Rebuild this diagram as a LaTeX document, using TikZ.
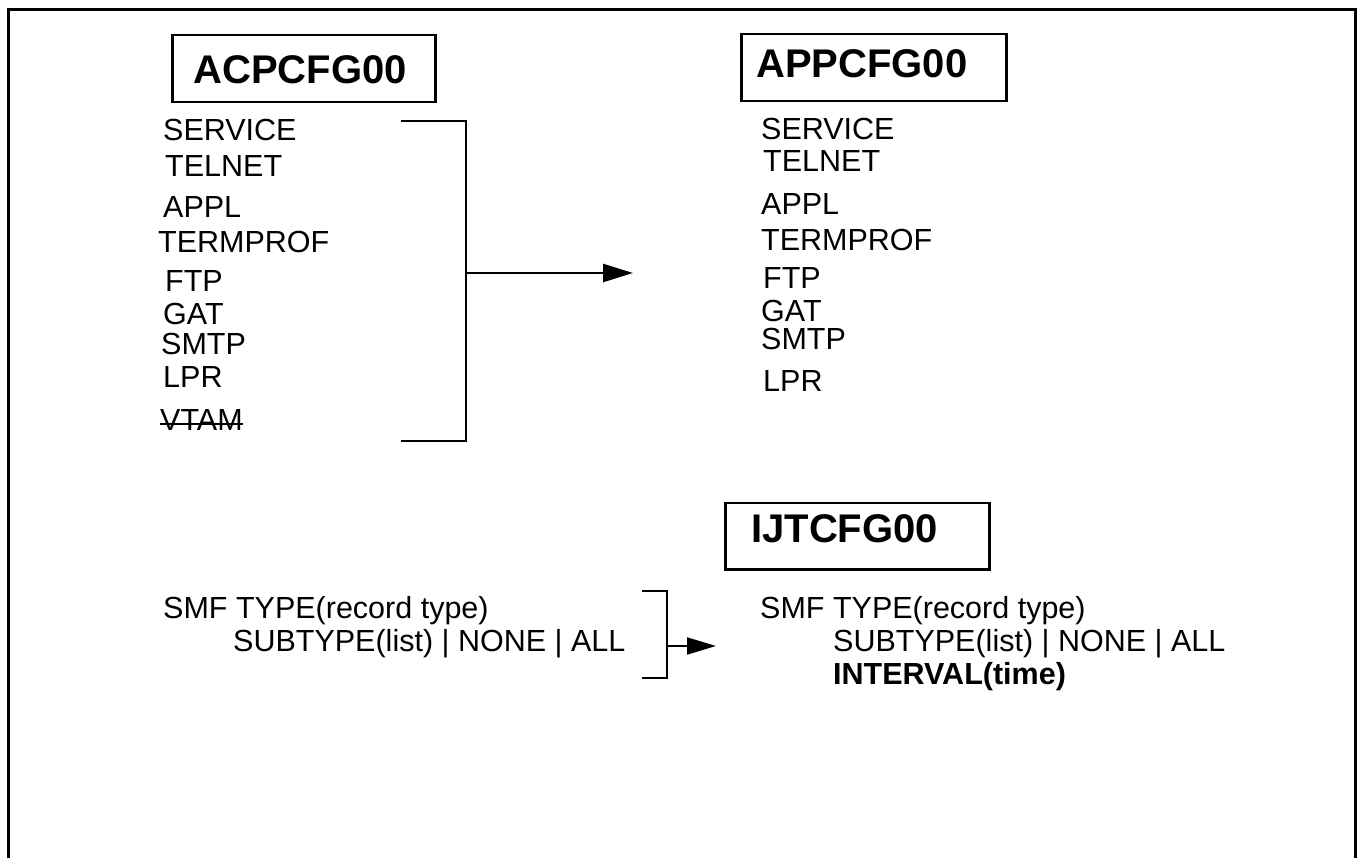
\documentclass[tikz,border=0pt]{standalone}
\usepackage{fontspec}
\setmainfont{Liberation Sans}
\usetikzlibrary{arrows.meta}
\begin{document}
\begin{tikzpicture}[x=1pt,y=-1pt,
  frame/.style={line width=3pt},
  hdr/.style={draw, line width=2.5pt, anchor=north west, inner ysep=0pt,
    font=\fontsize{40}{48}\selectfont\bfseries, text height=29pt,
    minimum height=67pt, align=left},
  item/.style={anchor=base west, inner sep=0pt, font=\fontsize{30.5}{36}\selectfont},
  brk/.style={line width=2.5pt},
  arr/.style={line width=2.5pt, -{Triangle[length=30pt,width=18pt]}}]
\useasboundingbox (0,0) rectangle (1361,858);
% outer frame, open at the bottom
\draw[frame] (8,858) -- (8,10) -- (1355,10) -- (1355,858);

% member headings
\node[hdr, inner xsep=21pt, text width=221pt, text depth=0pt] (acp) at (171,34) {ACPCFG00};
\node[hdr, inner xsep=15pt, text width=235pt, text depth=10pt] (app) at (740,33) {APPCFG00};
\node[hdr, inner xsep=26pt, text width=212pt, text depth=16pt, minimum height=66pt] (ijt) at (724,502) {IJTCFG00};

% statements in ACPCFG00
\node[item] (ls1) at (163,141) {SERVICE};
\node[item] (ls2) at (165,177) {TELNET};
\node[item] (ls3) at (163,218) {APPL};
\node[item] (ls4) at (158,253) {TERMPROF};
\node[item] (ls5) at (165,292) {FTP};
\node[item] (ls6) at (163,325) {GAT};
\node[item] (ls7) at (161,355) {SMTP};
\node[item] (ls8) at (163,388) {LPR};
\node[item] (ls9) at (160,431) {VTAM};
\draw[line width=2pt] ([yshift=7pt]ls9.base west) -- ([yshift=7pt]ls9.base east);

% statements in APPCFG00
\node[item] (rs1) at (761,140) {SERVICE};
\node[item] (rs2) at (763,172) {TELNET};
\node[item] (rs3) at (761,215) {APPL};
\node[item] (rs4) at (761,251) {TERMPROF};
\node[item] (rs5) at (763,289) {FTP};
\node[item] (rs6) at (761,322) {GAT};
\node[item] (rs7) at (761,350) {SMTP};
\node[item] (rs8) at (763,392) {LPR};

% bracket and arrow for the moved statements
\coordinate (b1a) at (401,121);
\coordinate (b1b) at (466,121);
\coordinate (b1c) at (466,441);
\coordinate (b1d) at (401,441);
\coordinate (b1m) at (466,273);
\coordinate (t1) at (633,273);
\draw[brk] (b1a) -- (b1b) -- (b1c) -- (b1d);
\draw[arr] (b1m) -- (t1);

% SMF statement, old and new form
\node[item] (lsmf) at (163,618) {SMF TYPE(record type)};
\node[item] (lsub) at (233,651) {SUBTYPE(list) | NONE | ALL};
\node[item] (rsmf) at (760,618) {SMF TYPE(record type)};
\node[item] (rsub) at (833,651) {SUBTYPE(list) | NONE | ALL};
\node[item, font=\fontsize{30.5}{36}\selectfont\bfseries] (rint) at (833,684) {INTERVAL(time)};

\coordinate (b2a) at (642,591);
\coordinate (b2b) at (667,591);
\coordinate (b2c) at (667,678);
\coordinate (b2d) at (642,678);
\coordinate (b2m) at (667,646);
\coordinate (t2) at (716,646);
\draw[brk] (b2a) -- (b2b) -- (b2c) -- (b2d);
\draw[line width=2pt, -{Triangle[length=29pt,width=17pt]}] (b2m) -- (t2);
\end{tikzpicture}
\end{document}
